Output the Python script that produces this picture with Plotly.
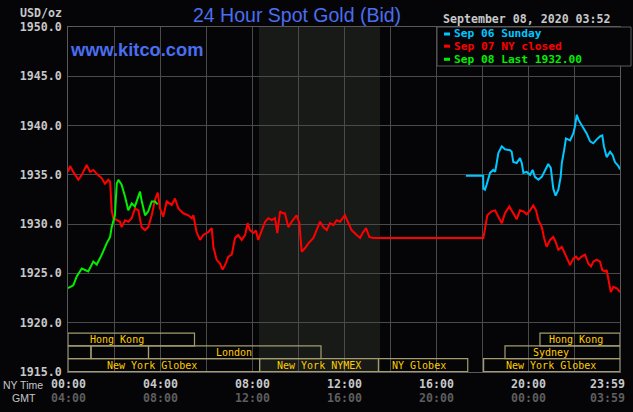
import plotly.graph_objects as go

# ---------------- data ----------------
green_h = [0, 0.23, 0.38, 0.6, 0.88, 1.1, 1.25, 1.47, 1.68, 1.83, 1.9, 2.04, 2.12, 2.19, 2.33,
           2.48, 2.62, 2.77, 2.91, 3.13, 3.2, 3.35, 3.49, 3.64, 3.78, 3.9]
green_v = [1923.5, 1923.8, 1924.7, 1925.5, 1925.2, 1926.2, 1925.9, 1926.9, 1928.05, 1928.7, 1929.7,
           1930.9, 1934.1, 1934.5, 1934.0, 1932.8, 1931.4, 1932.1, 1931.8, 1933.3, 1932.4, 1930.9,
           1931.3, 1932.3, 1932.3, 1932.0]

red_h = [0, 0.09, 0.23, 0.45, 0.6, 0.81, 0.96, 1.1, 1.25, 1.47, 1.61, 1.75, 1.83, 1.9, 1.97, 2.12,
         2.26, 2.33, 2.48, 2.62, 2.77, 2.91, 3.06, 3.2, 3.35, 3.49, 3.64, 3.78, 3.9, 4.0, 4.14, 4.29,
         4.51, 4.65, 4.8, 5.01, 5.23, 5.38, 5.45, 5.59, 5.74, 5.88, 6.1, 6.25, 6.32, 6.46, 6.61, 6.72,
         6.83, 6.97, 7.12, 7.26, 7.4, 7.55, 7.7, 7.81, 7.91, 8.06, 8.17, 8.27, 8.42, 8.57, 8.71, 8.86,
         9.0, 9.1, 9.22, 9.33, 9.43, 9.58, 9.73, 9.94, 10.06, 10.16, 10.3, 10.45, 10.67, 10.81, 10.96,
         11.1, 11.25, 11.39, 11.54, 11.68, 11.83, 12.04, 12.19, 12.33, 12.55, 12.7, 12.81, 12.96, 13.1,
         13.27, 18.06, 18.13, 18.23, 18.42, 18.57, 18.71, 18.86, 19.0, 19.19, 19.36, 19.51, 19.65,
         19.8, 19.94, 20.09, 20.23, 20.35, 20.45, 20.6, 20.7, 20.81, 20.96, 21.1, 21.2, 21.32, 21.47,
         21.6, 21.75, 21.83, 21.97, 22.09, 22.19, 22.33, 22.48, 22.62, 22.74, 22.84, 22.99, 23.13,
         23.23, 23.35, 23.42, 23.52, 23.6, 23.71, 23.86, 24.0]
red_v = [1935.3, 1935.9, 1935.3, 1934.5, 1935.0, 1936.0, 1935.3, 1935.5, 1935.1, 1934.65, 1934.1,
         1934.5, 1934.3, 1931.4, 1930.6, 1930.4, 1930.25, 1929.7, 1930.4, 1930.25, 1930.6, 1931.6,
         1931.4, 1929.7, 1929.4, 1929.7, 1930.9, 1932.45, 1933.2, 1931.6, 1930.75, 1932.3, 1931.95,
         1932.6, 1931.6, 1931.1, 1930.9, 1930.6, 1930.9, 1929.2, 1928.4, 1928.9, 1929.2, 1929.6,
         1927.7, 1926.4, 1926.0, 1925.4, 1925.85, 1926.7, 1926.9, 1928.6, 1928.9, 1928.4, 1928.9,
         1930.1, 1929.4, 1929.1, 1929.35, 1928.4, 1929.4, 1930.25, 1930.6, 1930.4, 1930.6, 1929.1,
         1931.3, 1931.1, 1931.1, 1929.7, 1930.25, 1930.9, 1930.1, 1927.2, 1927.55, 1928.05, 1928.6,
         1929.4, 1930.25, 1929.7, 1929.4, 1930.1, 1929.9, 1930.4, 1930.25, 1930.9, 1930.1, 1929.4,
         1928.9, 1928.6, 1929.1, 1929.6, 1928.7, 1928.6, 1928.6, 1929.7, 1930.9, 1931.3, 1931.4,
         1930.75, 1930.1, 1931.1, 1931.8, 1931.1, 1930.5, 1931.4, 1931.3, 1931.0, 1931.4, 1931.9,
         1931.4, 1930.4, 1929.7, 1928.6, 1927.7, 1928.4, 1928.7, 1928.2, 1927.4, 1927.7, 1927.05,
         1926.4, 1925.85, 1926.5, 1926.7, 1926.4, 1926.7, 1926.9, 1926.0, 1925.7, 1926.2, 1926.4,
         1926.2, 1925.35, 1925.2, 1925.35, 1924.2, 1923.1, 1923.65, 1923.5, 1923.1]

cyan_h = [17.3, 18.05, 18.06, 18.13, 18.2, 18.35, 18.49, 18.57, 18.64, 18.71, 18.86, 19.0, 19.22,
          19.29, 19.36, 19.51, 19.65, 19.73, 19.8, 19.94, 20.09, 20.2, 20.3, 20.45, 20.6, 20.74,
          20.88, 20.99, 21.1, 21.2, 21.32, 21.42, 21.47, 21.57, 21.65, 21.83, 21.97, 22.04, 22.12,
          22.19, 22.29, 22.4, 22.55, 22.7, 22.84, 22.99, 23.13, 23.23, 23.3, 23.42, 23.57, 23.68,
          23.78, 23.93, 24.0]
cyan_v = [1934.9, 1934.9, 1933.6, 1933.5, 1934.0, 1935.2, 1935.5, 1935.3, 1936.2, 1937.2, 1937.9,
          1937.6, 1937.5, 1937.35, 1936.3, 1936.2, 1936.7, 1936.2, 1935.2, 1935.3, 1935.0, 1935.5,
          1934.8, 1934.5, 1934.8, 1935.5, 1936.1, 1935.7, 1933.6, 1932.9, 1933.5, 1934.8, 1936.2,
          1937.5, 1938.7, 1938.5, 1939.2, 1939.9, 1941.1, 1940.6, 1940.2, 1939.7, 1939.2, 1938.4,
          1938.2, 1938.6, 1938.9, 1939.0, 1937.9, 1936.8, 1937.35, 1937.0, 1936.3, 1935.9, 1935.55]

series_names = ["Sep 06 Sunday", "Sep 07 NY closed", "Sep 08 Last 1932.00"]
series_colors = ["#00c8ff", "#ff0000", "#00f000"]

ny_ticks = [0, 4, 8, 12, 16, 20, 24]
ny_labels = ["00:00", "04:00", "08:00", "12:00", "16:00", "20:00", "23:59"]
gmt_labels = ["04:00", "08:00", "12:00", "16:00", "20:00", "00:00", "03:59"]

# market sessions: (row, start hour, end hour, label, label centre hour)
sess_row = [1, 1, 2, 2, 2, 2, 3, 3, 3, 3]
sess_start = [0, 20.52, 0, 1, 3.5, 19.0, 0, 8.33, 13.5, 18.07]
sess_end = [5.5, 24, 1, 3.5, 11.0, 24, 8.33, 13.5, 17.38, 24]
sess_label = ["Hong Kong", "Hong Kong", "", "", "London", "Sydney",
              "New York Globex", "New York NYMEX", "NY Globex", "New York Globex"]
sess_label_h = [2.13, 22.09, 0, 0, 7.2, 20.98, 3.65, 10.92, 15.24, 21.0]
row_edges = {1: (1917.65, 1918.95), 2: (1916.35, 1917.65), 3: (1915.05, 1916.35)}

nymex_open, nymex_close = 8.3, 13.57

# ---------------- figure ----------------
BG = "#050508"
GRID = "#4a4a4a"
FRAME = "#5a5a5a"
MONO = "DejaVu Sans Mono"
LIGHT = "#c8c8c8"
GMTC = "#5e5e5e"
BOXC = "#a39d6e"
SESS_TXT = "#ffcc00"

fig = go.Figure()
for h, v, name, col in [(cyan_h, cyan_v, series_names[0], series_colors[0]),
                        (red_h, red_v, series_names[1], series_colors[1]),
                        (green_h, green_v, series_names[2], series_colors[2])]:
    fig.add_trace(go.Scatter(x=h, y=v, mode="lines", name=name,
                             line=dict(color=col, width=2), hoverinfo="skip"))

shapes = []
# NYMEX shaded region
shapes.append(dict(type="rect", xref="x", yref="paper", x0=nymex_open, x1=nymex_close, y0=0, y1=1,
                   fillcolor="#181a18", line=dict(width=0), layer="below"))
# session boxes
for r, s, e in zip(sess_row, sess_start, sess_end):
    y0, y1 = row_edges[r]
    shapes.append(dict(type="rect", xref="x", yref="y", x0=s, x1=e, y0=y0, y1=y1,
                       line=dict(color=BOXC, width=1.2), fillcolor="rgba(0,0,0,0)", layer="above"))


def px_x(p):
    return (p - 68) / 552.0


def px_y(p):
    return (372 - p) / 345.0


# legend box
shapes.append(dict(type="rect", xref="paper", yref="paper", x0=px_x(437), x1=px_x(631),
                   y0=px_y(66), y1=px_y(27), fillcolor=BG, line=dict(color=FRAME, width=1),
                   layer="above"))
leg_y = [34, 46.2, 59.3]
annotations = []
for name, col, yy in zip(series_names, series_colors, leg_y):
    shapes.append(dict(type="line", xref="paper", yref="paper", x0=px_x(444), x1=px_x(450),
                       y0=px_y(yy), y1=px_y(yy), line=dict(color=col, width=3), layer="above"))
    annotations.append(dict(x=px_x(453), y=px_y(yy), xref="paper", yref="paper", text=name,
                            showarrow=False, xanchor="left", yanchor="middle", borderpad=0,
                            font=dict(family=MONO, size=11.2, color=col, weight="bold")))

# session labels
for r, lab, lh in zip(sess_row, sess_label, sess_label_h):
    if lab:
        y0, y1 = row_edges[r]
        annotations.append(dict(x=lh, y=(y0 + y1) / 2, xref="x", yref="y", text=lab,
                                showarrow=False, xanchor="center", yanchor="middle",
                                font=dict(family=MONO, size=10, color=SESS_TXT)))

# x tick labels (two rows)
for t, ny, g in zip(ny_ticks, ny_labels, gmt_labels):
    anc = "right" if t == 24 else "center"
    shift = 7 if t == 24 else 0
    annotations.append(dict(x=t, y=px_y(383.5), xref="x", yref="paper", text=ny, showarrow=False,
                            xanchor=anc, yanchor="middle", xshift=shift,
                            font=dict(family=MONO, size=11.6, color=LIGHT, weight="bold")))
    annotations.append(dict(x=t, y=px_y(397.5), xref="x", yref="paper", text=g, showarrow=False,
                            xanchor=anc, yanchor="middle", xshift=shift,
                            font=dict(family=MONO, size=11.6, color=GMTC, weight="bold")))
annotations.append(dict(x=px_x(2), y=px_y(384.5), xref="paper", yref="paper", text="NY Time",
                        showarrow=False, xanchor="left", yanchor="middle", borderpad=0,
                        font=dict(family="Liberation Sans", size=10.5, color=LIGHT)))
annotations.append(dict(x=px_x(11), y=px_y(398), xref="paper", yref="paper", text="GMT",
                        showarrow=False, xanchor="left", yanchor="middle", borderpad=0,
                        font=dict(family="Liberation Sans", size=10.5, color=LIGHT)))

# titles / texts
annotations.append(dict(x=px_x(297), y=px_y(15), xref="paper", yref="paper",
                        text="24 Hour Spot Gold (Bid)", showarrow=False, xanchor="center",
                        yanchor="middle",
                        font=dict(family="Liberation Sans", size=19.5, color="#4a6ef0")))
annotations.append(dict(x=px_x(68), y=px_y(49), xref="paper", yref="paper",
                        text="www.kitco.com", showarrow=False, xanchor="left", yanchor="middle",
                        font=dict(family="Liberation Sans", size=18.3, color="#4a6ef0",
                                  weight="bold")))
annotations.append(dict(x=px_x(64), y=px_y(13), xref="paper", yref="paper", text="USD/oz",
                        showarrow=False, xanchor="right", yanchor="middle",
                        font=dict(family=MONO, size=11.6, color=LIGHT, weight="bold")))
annotations.append(dict(x=px_x(441), y=px_y(19), xref="paper", yref="paper",
                        text="September 08, 2020 03:52", showarrow=False, xanchor="left",
                        yanchor="middle",
                        font=dict(family=MONO, size=11.6, color=LIGHT, weight="bold")))

fig.update_layout(
    width=633, height=412,
    margin=dict(l=68, r=13, t=27, b=40),
    paper_bgcolor=BG, plot_bgcolor=BG,
    showlegend=False,
    shapes=shapes, annotations=annotations,
    xaxis=dict(range=[0, 24], tick0=0, dtick=2, showgrid=True, gridcolor=GRID, gridwidth=1,
               zeroline=False, showticklabels=False, ticks="", showline=True,
               linecolor=FRAME, linewidth=1, mirror=True, fixedrange=True),
    yaxis=dict(range=[1915, 1950], tick0=1915, dtick=5, showgrid=True, gridcolor=GRID,
               gridwidth=1, zeroline=False, tickformat=".1f", ticks="outside", ticklen=3,
               tickcolor="rgba(0,0,0,0)",
               tickfont=dict(family=MONO, size=11.6, color=LIGHT, weight="bold"),
               showline=True, linecolor=FRAME, linewidth=1, mirror=True, fixedrange=True),
)

fig.write_html("out.html")
